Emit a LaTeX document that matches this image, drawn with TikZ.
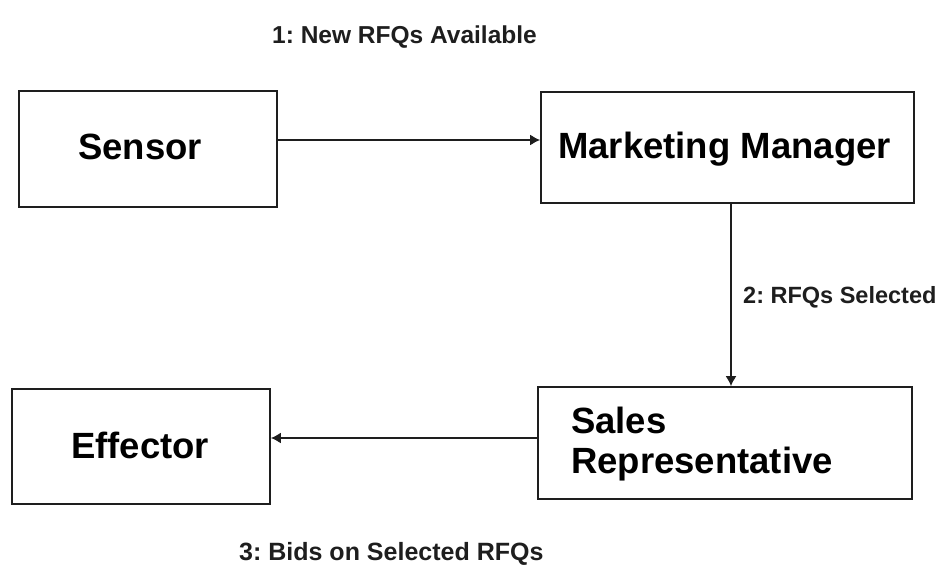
\documentclass[tikz,border=0pt]{standalone}
\usepackage{fontspec}
\setmainfont{Liberation Sans}
\usetikzlibrary{arrows.meta}
\definecolor{ink}{HTML}{1E1E1E}
\frenchspacing
\tikzset{
  box/.style={draw=ink, line width=1.8pt, rectangle, inner sep=0pt},
  boxtext/.style={anchor=base west, inner sep=0pt, text=black, font=\fontsize{36.5}{40}\selectfont\bfseries},
  lbl/.style={anchor=base west, inner sep=0pt, text=ink},
  arr/.style={draw=ink, line width=1.4pt, -{Latex[length=10pt,width=11pt]}}
}
\begin{document}
\begin{tikzpicture}[x=1pt,y=-1pt]
\useasboundingbox (0,0) rectangle (949,565);
% boxes
\node[box, minimum width=258pt, minimum height=116pt] (sensor) at (148,149) {};
\node[box, minimum width=373pt, minimum height=111pt] (mm) at (727.5,147.5) {};
\node[box, minimum width=258pt, minimum height=115pt] (eff) at (141,446.5) {};
\node[box, minimum width=374pt, minimum height=112pt] (sr) at (725,443) {};
% box texts
\node[boxtext] (tsensor) at (78,159) {Sensor};
\node[boxtext] (tmm) at (558,158) {Marketing Manager};
\node[boxtext] (teff) at (71,458) {Effector};
\node[boxtext] (tsales) at (571,433) {Sales};
\node[boxtext] (trep) at (571,473) {Representative};
% connectors
\draw[arr] ([yshift=9pt]sensor.east) -- ([yshift=9pt]sensor.east -| mm.west);
\draw[arr] ([xshift=3.5pt]mm.south) -- ([xshift=3.5pt]mm.south |- sr.north);
\draw[arr] ([yshift=5pt]sr.west) -- ([yshift=5pt]sr.west -| eff.east);
% labels
\node[lbl, font=\fontsize{24.5}{28}\selectfont\bfseries] (l1) at (272,43) {1: New RFQs Available};
\node[lbl, font=\fontsize{23.5}{27}\selectfont\bfseries] (l2) at (743,303) {2: RFQs Selected};
\node[lbl, font=\fontsize{25}{28}\selectfont\bfseries] (l3) at (239,560) {3: Bids on Selected RFQs};
\end{tikzpicture}
\end{document}
